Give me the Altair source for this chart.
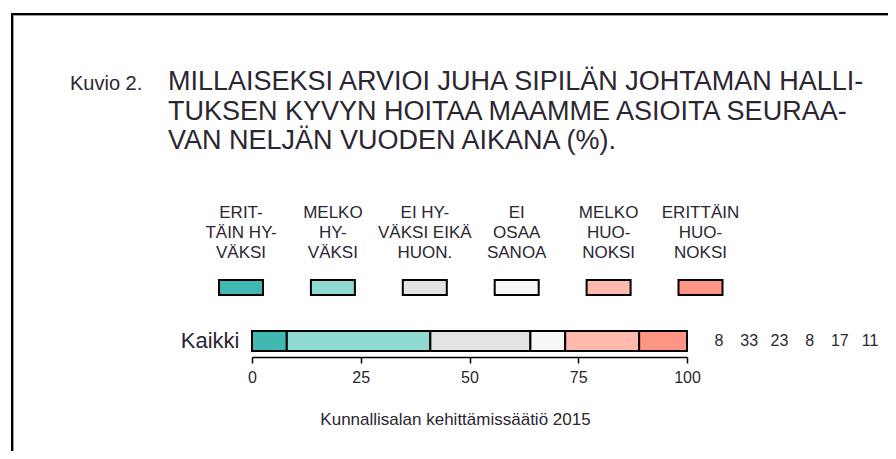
import altair as alt
import pandas as pd

# ---- data ----
categories = ["ERITTÄIN HYVÄKSI", "MELKO HYVÄKSI", "EI HYVÄKSI EIKÄ HUON.",
              "EI OSAA SANOA", "MELKO HUONOKSI", "ERITTÄIN HUONOKSI"]
legend_labels = ["ERIT-\nTÄIN HY-\nVÄKSI", "MELKO\nHY-\nVÄKSI", "EI HY-\nVÄKSI EIKÄ\nHUON.",
                 "EI\nOSAA\nSANOA", "MELKO\nHUO-\nNOKSI", "ERITTÄIN\nHUO-\nNOKSI"]
values = [8, 33, 23, 8, 17, 11]
colors = ["#41B8B1", "#8ED9D2", "#E3E3E3", "#F8F8F8", "#FFB9AD", "#FF9585"]
row_label = ["Kaikki"]
tick_values = [0, 25, 50, 75, 100]
title_kuvio = "Kuvio 2."
title_lines = ["MILLAISEKSI ARVIOI JUHA SIPILÄN JOHTAMAN HALLI-",
               "TUKSEN KYVYN HOITAA MAAMME ASIOITA SEURAA-",
               "VAN NELJÄN VUODEN AIKANA (%)."]
source = "Kunnallisalan kehittämissäätiö 2015"

df = pd.DataFrame({
    "group": row_label * len(categories),
    "cat": categories,
    "legend": legend_labels,
    "idx": list(range(len(categories))),
    "val": values,
})

NARROW = "Liberation Sans Narrow, Liberation Sans, Arial"
TXT = "#2b2632"

color = alt.Color("cat:N", scale=alt.Scale(domain=categories, range=colors), legend=None)
yband = alt.Y("group:N", scale=alt.Scale(domain=row_label, paddingInner=0, paddingOuter=0),
              axis=alt.Axis(title=None, domain=False, ticks=False, labelFontSize=22,
                            labelPadding=13, labelColor=TXT, labelFont="Liberation Sans"))

bars = alt.Chart(df).mark_bar(stroke="black", strokeWidth=2).encode(
    x=alt.X("val:Q", stack="zero", scale=alt.Scale(domain=[0, 100], nice=False),
            axis=alt.Axis(values=tick_values, title=source, offset=6, grid=False,
                          domainColor="black", domainWidth=1.5, tickColor="black",
                          tickWidth=1.5, tickSize=6, labelFontSize=16, labelFont=NARROW,
                          labelColor=TXT, labelPadding=6, labelFlush=False,
                          titleFont=NARROW, titleFontSize=17, titleFontWeight="normal",
                          titleColor=TXT, titlePadding=26, titleX=203)),
    y=yband,
    color=color,
    order=alt.Order("idx:Q"),
)

nums = alt.Chart(df).mark_text(font=NARROW, fontSize=16, color=TXT, baseline="middle").encode(
    x=alt.X("cat:N", sort=categories, scale=alt.Scale(type="point", domain=categories,
            range=[467, 618], padding=0), axis=None),
    y=yband,
    text=alt.Text("val:Q"),
)

box_shape = "M-1,-0.341 L1,-0.341 L1,0.341 L-1,0.341 Z"
legend_x = alt.X("cat:N", scale=alt.Scale(type="point", domain=categories,
                 range=[-11, 448.5], padding=0), axis=None)
leg_boxes = alt.Chart(df).mark_point(shape=box_shape, size=44 * 44, filled=True,
                                     stroke="black", strokeWidth=2, opacity=1,
                                     strokeOpacity=1).encode(
    x=legend_x, y=alt.value(-43.5), color=color, fill=color,
)
leg_text = alt.Chart(df).mark_text(font=NARROW, fontSize=17, color=TXT, lineBreak="\n",
                                   lineHeight=20, baseline="alphabetic", align="center").encode(
    x=legend_x, y=alt.value(-113), text="legend:N",
)

one = pd.DataFrame({"k": [0]})
kuvio = alt.Chart(one).mark_text(font=NARROW, fontSize=20, color=TXT, align="left",
                                 baseline="alphabetic").encode(
    x=alt.value(-182), y=alt.value(-241), text=alt.value(title_kuvio))
title = alt.Chart(one).mark_text(font=NARROW, fontSize=27, color=TXT, align="left",
                                 baseline="alphabetic", lineHeight=29.5).encode(
    x=alt.value(-84), y=alt.value(-241), text=alt.value(title_lines))

frame_left_shadow = alt.Chart(one).mark_rule(color="#9a9a9a", strokeWidth=1).encode(
    x=alt.value(-238.5), y=alt.value(-315), y2=alt.value(140))
frame_top_shadow = alt.Chart(one).mark_rule(color="#9a9a9a", strokeWidth=1).encode(
    x=alt.value(-239), x2=alt.value(660), y=alt.value(-315.5))
frame_left = alt.Chart(one).mark_rule(color="black", strokeWidth=2).encode(
    x=alt.value(-240), y=alt.value(-317), y2=alt.value(140))
frame_top = alt.Chart(one).mark_rule(color="black", strokeWidth=2).encode(
    x=alt.value(-241), x2=alt.value(660), y=alt.value(-317))

chart = alt.layer(frame_left_shadow, frame_top_shadow, frame_left, frame_top, kuvio, title,
                  leg_text, leg_boxes, bars, nums).resolve_scale(
    x="independent"
).properties(
    width=435, height=20,
    autosize=alt.AutoSizeParams(type="none"),
    padding={"left": 244, "top": 323, "right": 201, "bottom": 100},
).configure_view(stroke=None).configure(background="white")

chart.save("out.html", embed_options={"renderer": "svg", "actions": False})
